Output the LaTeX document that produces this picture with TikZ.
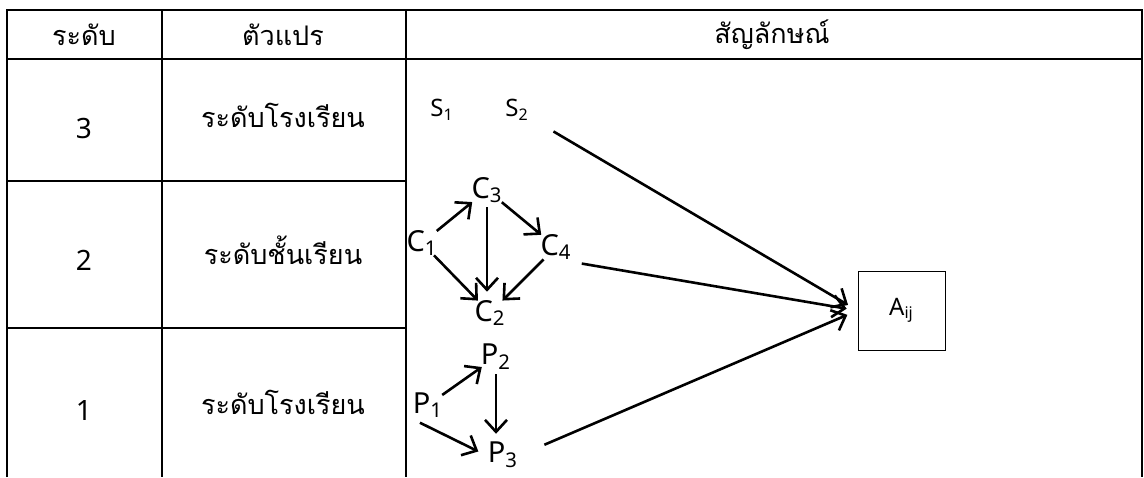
\documentclass[tikz,border=0pt]{standalone}
\usepackage{fontspec}
\setmainfont{Noto Sans}
\newfontfamily\thaifont[Script=Thai]{Loma}
\usetikzlibrary{positioning, arrows.meta}

\begin{document}
\begin{tikzpicture}[x=0.5pt, y=-0.5pt,
    grid/.style={line width=1.3pt},
    thai/.style={font=\thaifont\fontsize{13.5}{16}\selectfont},
    big/.style={font=\fontsize{14}{17}\selectfont},
    lbl/.style={font=\fontsize{14.5}{17}\selectfont, inner sep=1pt},
    small/.style={font=\fontsize{12}{14}\selectfont, inner sep=1pt},
    arr/.style={-{Straight Barb[length=6pt, width=11pt]}, line width=1.3pt},
    near/.style={shorten <=-2pt, shorten >=-2pt},
  ]
  \useasboundingbox (0,0) rectangle (1144,477);

  % Table lines
  \draw[grid] (7,477) -- (7,10) -- (1142,10) -- (1142,477);
  \draw[grid] (7,59) -- (1142,59);
  \foreach \x in {162, 406} \draw[grid] (\x,10) -- (\x,477);
  \foreach \y in {181, 328} \draw[grid] (7,\y) -- (406,\y);

  % Header
  \node[thai] (hlevel) at (84,35) {ระดับ};
  \node[thai] (hvar) at (283,35) {ตัวแปร};
  \node[thai] (hsym) at (772,35) {สัญลักษณ์};

  % Levels
  \foreach \n/\y/\t/\ty in {3/128/ระดับโรงเรียน/115, 2/260/ระดับชั้นเรียน/250, 1/410/ระดับโรงเรียน/402} {
    \node[big] (lv\n) at (84,\y) {\n};
    \node[thai] (var\n) at (283,\ty) {\t};
  }

  % Symbols
  \node[small] (s1) at (442,110) {S\textsubscript{1}};
  \node[small] (s2) at (517,110) {S\textsubscript{2}};
  \node[lbl] (c1) at (422,243) {C\textsubscript{1}};
  \node[lbl] (c3) at (487,190) {C\textsubscript{3}};
  \node[lbl] (c4) at (556,247) {C\textsubscript{4}};
  \node[lbl] (c2) at (490,313) {C\textsubscript{2}};
  \node[lbl] (p1) at (428,405) {P\textsubscript{1}};
  \node[lbl] (p2) at (496,357) {P\textsubscript{2}};
  \node[lbl] (p3) at (503,455) {P\textsubscript{3}};
  \node[draw, line width=0.5pt, minimum width=43.5pt, minimum height=39.5pt, small] (a) at (901.5,310.5) {A\textsubscript{ij}};

  % Class level paths
  \draw[arr, near] (c1) -- (c3);
  \draw[arr, near] (c3) -- (c4);
  \draw[arr, near] (c1) -- (c2);
  \draw[arr, near] (c4) -- (c2);
  \draw[arr, shorten <=1pt, shorten >=3pt] (c3.south) -- (c3.south |- c2.north);

  % Student level paths
  \draw[arr, near] (p1) -- (p2);
  \draw[arr, shorten <=1pt, shorten >=3pt] (p2.south) -- (p2.south |- p3.north);
  \draw[arr, shorten <=3pt, shorten >=4pt] ([xshift=2pt]p1.south west) -- (p3.west);

  % To outcome
  \draw[arr, shorten <=13pt, shorten >=5.5pt] (s2) -- (a.west);
  \draw[arr, shorten <=4pt, shorten >=5.5pt] (c4.south east) -- (a.west);
  \draw[arr, shorten <=13pt, shorten >=5.5pt] (p3.east) -- (a.west);
\end{tikzpicture}
\end{document}
